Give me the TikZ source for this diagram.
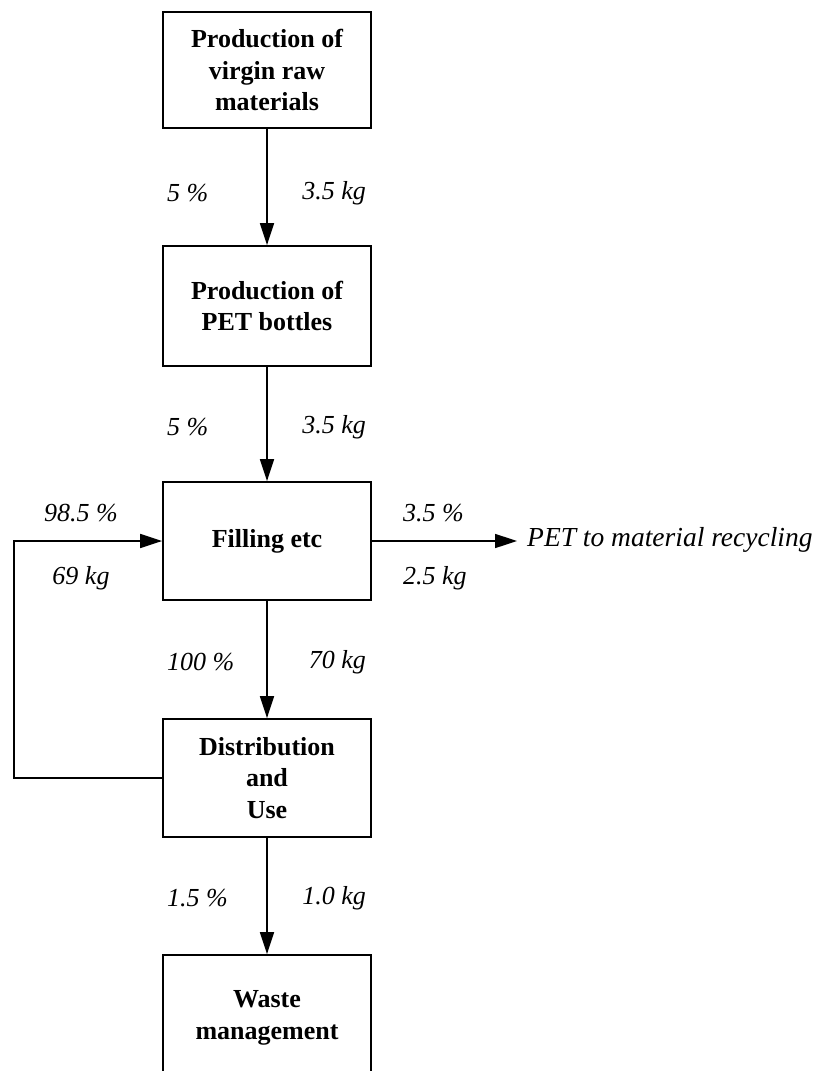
\documentclass[tikz,border=0pt]{standalone}
\usepackage{fontspec}
\setmainfont{Liberation Serif}
\usetikzlibrary{arrows.meta}
\begin{document}
\begin{tikzpicture}[x=1pt,y=-1pt,
 box/.style={draw, line width=1.8pt, minimum width=208pt, minimum height=118pt, align=center, font=\fontsize{26}{31.5}\selectfont\bfseries, inner sep=0pt},
 lbl/.style={font=\fontsize{26}{31}\selectfont\itshape, inner sep=0pt},
 flow/.style={line width=1.6pt, line join=miter, -{Triangle[length=22pt,width=14pt]}}]
\useasboundingbox (0,0) rectangle (819,1071);
\node[box, minimum height=116pt] (raw) at (267,70) {Production of\\virgin raw\\materials};
\node[box, minimum height=120pt] (pet) at (267,306) {Production of\\PET bottles};
\node[box] (fill) at (267,541) {Filling etc};
\node[box] (dist) at (267,778) {Distribution\\and\\Use};
\node[box, minimum height=126pt] (waste) at (267,1018) {Waste\\management};
\node[lbl, anchor=west, inner xsep=10pt, font=\fontsize{27.5}{31}\selectfont\itshape] (recy) at (517,540) {PET to material recycling};
\coordinate (lc) at (14,0);

\draw[flow] (raw) -- (pet);
\draw[flow] (pet) -- (fill);
\draw[flow] (fill) -- (dist);
\draw[flow] (dist) -- (waste);
\draw[flow] (fill.east) -- (fill.east -| recy.west);
\draw[flow] (dist.west) -- (dist.west -| lc) -- (lc |- fill.west) -- (fill.west);

\node[lbl, anchor=west] (l1) at (167,193) {5 \%};
\node[lbl, anchor=east] (r1) at (366,193) {3.5 kg};
\node[lbl, anchor=west] (l2) at (167,427) {5 \%};
\node[lbl, anchor=east] (r2) at (366,427) {3.5 kg};
\node[lbl, anchor=west] (l3) at (167,662) {100 \%};
\node[lbl, anchor=east] (r3) at (366,662) {70 kg};
\node[lbl, anchor=west] (l4) at (167,898) {1.5 \%};
\node[lbl, anchor=east] (r4) at (366,898) {1.0 kg};
\node[lbl] (lp) at (81,513) {98.5 \%};
\node[lbl] (lk) at (81,578) {69 kg};
\node[lbl, anchor=west] (rp) at (403,513) {3.5 \%};
\node[lbl, anchor=west] (rk) at (403,578) {2.5 kg};
\end{tikzpicture}
\end{document}
